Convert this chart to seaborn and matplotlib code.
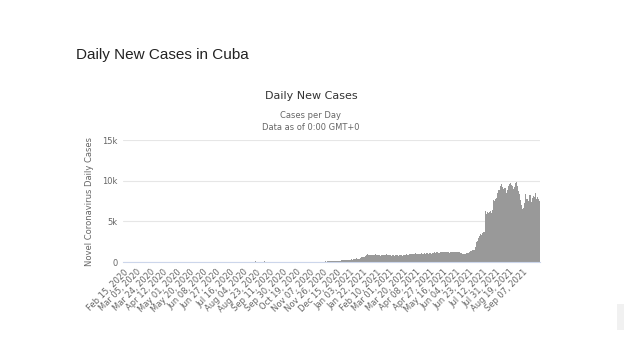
import matplotlib
matplotlib.use("Agg")
import matplotlib.pyplot as plt
from matplotlib.patches import Rectangle
import seaborn as sns
import pandas as pd
import numpy as np

# daily new cases in Cuba (Feb 15 2020 -> Oct 1 2021)
feb20 = [0,0,0,0,0,0,0,0,0,0,0,0,0,0,0]
mar20 = [0,0,0,0,0,0,0,0,0,0,3,1,0,0,0,1,6,5,5,5,19,8,8,7,10,9,13,15,9,16,16]
apr20 = [26,21,21,31,32,38,30,49,42,61,50,48,46,54,49,48,50,52,33,52,
         49,34,44,52,29,30,29,33,24,30]
may20 = [13,18,20,11,14,13,20,11,21,11,14,15,9,13,14,7,14,11,16,15,
         10,19,10,11,4,8,8,9,22,11,10]
jun20 = [8,4,12,10,5,7,8,4,7,3,5,2,6,0,4,4,3,3,2,5,2,4,1,4,3,5,2,4,2,3]
jul20 = [2,3,1,4,2,3,0,2,1,2,4,3,2,1,5,3,2,4,3,6,2,3,1,4,11,8,3,4,5,13,12]
aug20 = [16,20,36,28,21,24,38,29,46,50,39,55,48,42,32,27,52,60,38,57,
         57,69,59,50,46,45,41,45,53,28,34]
sep20 = [35,60,71,47,39,61,45,43,38,47,42,41,45,37,35,45,32,25,38,26,
         23,24,26,24,33,18,20,24,16,26]
oct20 = [27,13,24,17,15,26,36,24,20,24,19,21,14,23,13,20,12,24,24,19,
         21,26,25,18,32,17,38,27,25,32,27]
nov20 = [29,30,45,40,42,45,38,28,45,30,34,46,49,52,40,27,43,45,39,40,
         54,48,36,52,49,39,58,46,63,60]
dec20 = [58,65,70,66,72,80,65,76,88,94,107,125,117,110,129,130,135,150,160,171,
         179,203,217,190,224,217,277,248,280,246,234]
jan21 = [191,263,238,260,249,312,298,323,326,311,344,387,461,395,346,382,421,523,484,580,
         557,561,651,645,711,784,829,953,880,917,849]
feb21 = [880,910,870,920,833,820,875,890,929,860,842,900,910,830,865,778,814,871,922,870,
         844,896,888,930,820,878,905,872]
mar21 = [810,850,880,790,840,860,820,770,830,880,900,850,810,760,820,860,880,830,790,850,
         910,870,840,880,930,900,870,920,950,890,930]
apr21 = [960,990,1010,1030,950,1020,1060,1000,980,1040,1010,1070,990,1020,1050,1080,1000,1040,1090,1060,
         1030,1070,1100,1050,1010,1080,1110,1060,1090,1040]
may21 = [1080,1120,1150,1190,1130,1210,1170,1230,1180,1150,1120,1240,1200,1260,1190,1150,1220,1180,1250,1210,
         1170,1230,1280,1190,1140,1220,1260,1200,1170,1230,1250]
jun21 = [1220,1180,1260,1210,1150,1240,1190,1230,1170,1120,1100,1080,1040,1010,1050,1030,1000,1060,1090,1110,
         1130,1150,1200,1380,1420,1350,1440,1400,1460,1430]
jul21 = [1900,2150,2400,2550,2480,2900,3150,3300,3420,3380,3550,3500,3650,3700,6900,6250,5900,5950,6100,6050,
         6200,6150,6300,6000,6250,6350,7650,7700,7550,7800,7900]
aug21 = [8300,8500,8900,9100,8800,9300,9400,9650,9200,9000,8950,9100,9050,8600,8450,8800,8900,9300,9600,9750,
         9800,9500,9300,9100,8950,9200,9500,9700,9850,9400,8900]
sep21 = [8700,8400,8200,7600,7000,6200,6500,6600,7300,7900,8300,7700,8100,7800,7500,7900,8200,8250,7400,7600,
         7900,8100,7800,8000,8500,8300,7700,8000,7800,7600]
oct21 = [7500]

cases = (feb20 + mar20 + apr20 + may20 + jun20 + jul20 + aug20 + sep20 + oct20 + nov20 + dec20
         + jan21 + feb21 + mar21 + apr21 + may21 + jun21 + jul21 + aug21 + sep21 + oct21)
dates = pd.date_range("2020-02-15", periods=len(cases), freq="D")
labels = [d.strftime("%b %d, %Y") for d in dates]

df = pd.DataFrame({"day": labels, "cases": cases})

y_ticks = [0, 5000, 10000, 15000]
y_ticklabels = ["0", "5k", "10k", "15k"]
last_label = "Sep 07, 2021"

sns.set_style("white")
plt.rcParams["font.family"] = ["DejaVu Sans"]

fig = plt.figure(figsize=(6.28, 3.53), dpi=100)
ax = fig.add_axes([123/628, 1-262/353, 417/628, 122/353])

sns.barplot(data=df, x="day", y="cases", color="#999999", width=1.0,
            linewidth=0, saturation=1, ax=ax, order=labels)

n = len(cases)
ax.set_xlim(-0.5, n - 0.5)
ax.set_ylim(0, 15000)
ax.set_yticks(y_ticks)
ax.set_yticklabels(y_ticklabels, fontsize=6, color="#666666")
ax.yaxis.grid(True, color="#e6e6e6", linewidth=0.8)
ax.set_axisbelow(True)
for s in ["top", "right", "left"]:
    ax.spines[s].set_visible(False)
ax.spines["bottom"].set_color("#ccd6eb")
ax.spines["bottom"].set_linewidth(0.8)

tick_pos = list(range(0, labels.index(last_label) + 1, 19))
ax.set_xticks(tick_pos)
ax.set_xticklabels([labels[i] for i in tick_pos], rotation=45, ha="right",
                   rotation_mode="anchor", fontsize=6, color="#666666")
ax.tick_params(axis="both", length=0, pad=4)
ax.set_xlabel("")
ax.set_ylabel("Novel Coronavirus Daily Cases", fontsize=6, color="#666666", labelpad=6)

fig.text(76/628, 1-55/353, "Daily New Cases in Cuba", fontsize=11, color="#222222",
         family="Liberation Sans", va="center", ha="left")
fig.text(311/628, 1-96/353, "Daily New Cases", fontsize=8, color="#333333",
         va="center", ha="center")
fig.text(311/628, 1-115/353, "Cases per Day", fontsize=6, color="#666666",
         va="center", ha="center")
fig.text(311/628, 1-127/353, "Data as of 0:00 GMT+0", fontsize=6, color="#666666",
         va="center", ha="center")

# page scrollbar remnant at the lower right
fig.patches.append(Rectangle((617/628, 1-330/353), 7/628, 26/353, transform=fig.transFigure,
                             facecolor="#f1f1f1", edgecolor="none"))

fig.savefig("out.png", dpi=100)
